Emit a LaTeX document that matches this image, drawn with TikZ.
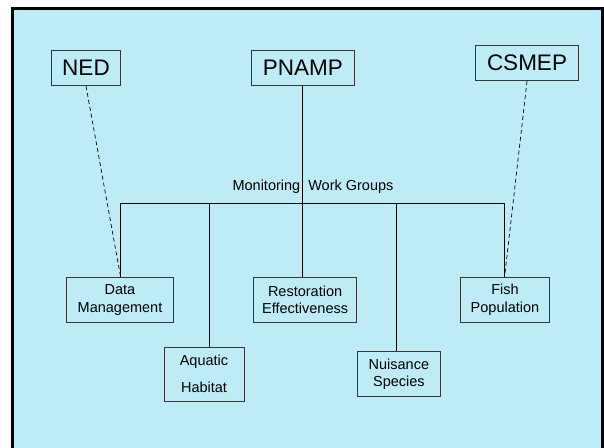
\documentclass[tikz,border=0pt]{standalone}
\usepackage{fontspec}
\setmainfont{Liberation Sans}
\definecolor{skyfill}{RGB}{189,236,247}
\definecolor{boxline}{RGB}{55,55,55}
\begin{document}
\begin{tikzpicture}[x=1pt,y=-1pt,
  topbox/.style={draw=boxline,line width=0.9pt,inner sep=0pt,minimum height=35pt,
    font=\fontsize{22.5}{26}\selectfont},
  groupbox/.style={draw=boxline,line width=0.9pt,inner sep=0pt,align=center,
    font=\fontsize{14.5}{17.5}\selectfont},
  link/.style={line width=0.8pt},
  dashlink/.style={line width=0.7pt,dash pattern=on 4pt off 3pt}]
  \useasboundingbox (0,0) rectangle (604,447);
  % frame
  \draw [line width=3pt,fill=skyfill] (12.8,8.5) rectangle (602.5,470);
  % agencies
  \node [topbox,minimum width=69pt] (ned) at (86,68.2) {NED};
  \node [topbox,minimum width=103pt] (pnamp) at (302.8,68.2) {PNAMP};
  \node [topbox,minimum width=103pt] (csmep) at (527,63.2) {CSMEP};
  % work groups
  \node [groupbox,minimum width=107pt,minimum height=45pt] (data) at (120,299.8) {Data\\Management};
  \node [groupbox,minimum width=103pt,minimum height=45pt] (rest) at (305.1,299.8) {Restoration\\Effectiveness};
  \node [groupbox,minimum width=88.6pt,minimum height=45pt] (fish) at (505,299.8) {Fish\\Population};
  \node [groupbox,minimum width=80pt,minimum height=54pt] (aqua) at (204,374) {Aquatic\\[9pt]Habitat};
  \node [groupbox,minimum width=83.7pt,minimum height=44.6pt] (nuis) at (398.9,374) {Nuisance\\Species};
  \node [font=\fontsize{14.5}{17.5}\selectfont] (mwg) at (313,186.7) {Monitoring\hspace{4pt} Work Groups};
  % bus line
  \coordinate (busa) at (120.6,203.3);
  \coordinate (busb) at (209.2,203.3);
  \coordinate (busd) at (396.8,203.3);
  \coordinate (buse) at (504.6,203.3);
  \draw [link] (busa) -- (buse);
  \draw [link] (pnamp.south) -- (pnamp.south |- rest.north);
  \draw [link] (busa) -- (busa |- data.north);
  \draw [link] (busb) -- (busb |- aqua.north);
  \draw [link] (busd) -- (busd |- nuis.north);
  \draw [link] (buse) -- (buse |- fish.north);
  % dashed ties
  \draw [dashlink] (ned.south) -- (busa |- data.north);
  \draw [dashlink] (csmep.south) -- (buse |- fish.north);
\end{tikzpicture}
\end{document}
